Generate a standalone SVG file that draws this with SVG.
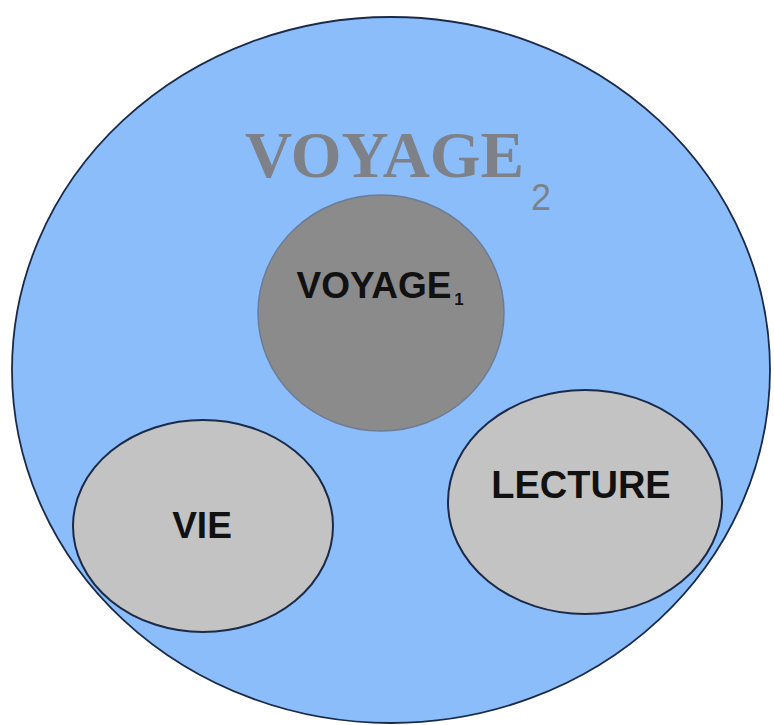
<svg xmlns="http://www.w3.org/2000/svg" width="774" height="725" viewBox="0 0 774 725">
<style>
.lbl{font-family:"Liberation Sans",Arial,sans-serif;font-weight:bold;fill:#111;text-anchor:middle}
.inner{fill:#C3C3C3;stroke:#1b2a48;stroke-width:2}
</style>
<rect width="774" height="725" fill="#fff"/>
<g id="voyage2">
<ellipse cx="391" cy="370" rx="379" ry="353" fill="#8BBDFB" stroke="#1b2a48" stroke-width="1.8"/>
<text x="245" y="177" font-family="'Liberation Serif','Times New Roman',serif" font-weight="bold" font-size="66" fill="#7e8288" textLength="279" lengthAdjust="spacingAndGlyphs">VOYAGE</text>
<text x="541" y="210" font-family="Liberation Sans,Arial,sans-serif" font-size="36" fill="#7e8288" text-anchor="middle">2</text>
</g>
<g id="voyage1">
<ellipse cx="381" cy="313" rx="123" ry="118" fill="#8B8B8B" stroke="#6d7c95" stroke-width="1.5"/>
<text class="lbl" x="374" y="298" font-size="37">VOYAGE</text>
<text class="lbl" x="459" y="305" font-size="17">1</text>
</g>
<g id="vie">
<ellipse class="inner" cx="203" cy="526" rx="130" ry="106"/>
<text class="lbl" x="202" y="538" font-size="37">VIE</text>
</g>
<g id="lecture">
<ellipse class="inner" cx="585" cy="502" rx="137" ry="112"/>
<text class="lbl" x="581" y="498" font-size="38">LECTURE</text>
</g>
<g id="connectors"/>
</svg>
